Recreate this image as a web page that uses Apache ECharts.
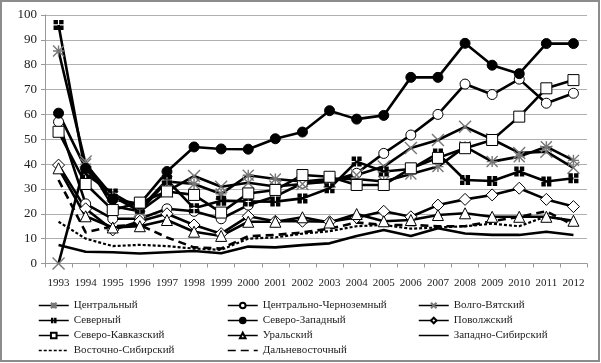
<!DOCTYPE html>
<html><head><meta charset="utf-8">
<script src="https://cdn.jsdelivr.net/npm/echarts@6/dist/echarts.min.js"></script>
<style>html,body{margin:0;padding:0;background:#fff}#c{width:601px;height:363px}</style>
</head><body><div id="c"></div>
<script>
var years = ['1993','1994','1995','1996','1997','1998','1999','2000','2001','2002','2003','2004','2005','2006','2007','2008','2009','2010','2011','2012'];
var yTicks = [0,10,20,30,40,50,60,70,80,90,100];

var central      = [85.5, 40, 27, 21, 33, 32, 28, 35.5, 34, 33, 34, 34, 33, 36, 39, 47, 41, 43, 47, 41.5];
var centralChern = [57, 24, 18, 18, 22, 21, 18, 23.5, 27, 32.3, 33, 36.3, 44.3, 51.7, 60, 72.2, 68, 74.2, 64.5, 68.5];
var volgoVyat    = [0, 41, 23, 21, 29, 35.2, 30.9, 32.5, 31, 32, 33, 35.6, 39, 46.5, 49.7, 55, 50, 44.5, 45, 38.5];
var severny      = [96, 36, 28.2, 22, 33.6, 22.2, 25.3, 25, 24.9, 26.2, 30.3, 41, 37, 38, 44.3, 33.6, 33.2, 37, 33, 34.3];
var severoZap    = [60.5, 38.3, 25.8, 24, 37, 46.9, 46.1, 46, 50.2, 52.9, 61.5, 58.1, 59.6, 74.9, 74.9, 88.6, 79.8, 76.4, 88.5, 88.5];
var povolzh      = [39.6, 22, 13.5, 17, 20, 15.5, 12, 19, 17, 17, 16.8, 18.5, 21, 18.8, 23.5, 25.8, 27.6, 30.3, 25.8, 22.9];
var severoKavk   = [53, 32, 21.5, 24.5, 29, 27.6, 20.5, 28.2, 29.6, 35.6, 34.9, 31.6, 31.6, 38.3, 42.5, 46.4, 49.7, 59.1, 70.5, 73.8];
var ural         = [38.3, 19, 14.5, 15, 17.5, 12.8, 11.1, 16.8, 16.8, 18.6, 16.5, 19.9, 17, 17.5, 19.5, 20.2, 18.8, 18.8, 18.8, 17.2];
var zapSib       = [7.4, 4.7, 4.5, 4, 4.5, 5, 4.1, 6.8, 6.5, 7.4, 8.1, 11.1, 13.5, 11.1, 14.2, 12.1, 11.5, 11.5, 12.8, 11.5];
var vostSib      = [16.8, 10, 7, 7.5, 7, 6, 5.5, 10, 10.5, 12, 13, 15, 15.5, 14, 14.5, 15, 16, 15, 19, 17];
var dalnevost    = [33.6, 12.5, 15, 15.5, 10.5, 6.5, 6, 11, 11.5, 12.5, 14, 16.5, 15.5, 15.5, 15, 15, 17, 18.8, 21, 15.5];

var names = ['Центральный','Центрально-Черноземный','Волго-Вятский','Северный','Северо-Западный','Поволжский','Северо-Кавказский','Уральский','Западно-Сибирский','Восточно-Сибирский','Дальневосточный'];

var ASTER = 'path://M0,0L10,10M10,0L0,10M5,0L5,10M0,5L10,5';
var XMARK = 'path://M0,0L10,10M10,0L0,10';
var PLUSSQ = 'path://M0,0h4.4v4.4h-4.4zM5.6,0h4.4v4.4h-4.4zM0,5.6h4.4v4.4h-4.4zM5.6,5.6h4.4v4.4h-4.4z';
var FONT = '"Liberation Serif","Times New Roman",serif';

function mk(name, data, symbol, size, fill, border, bw, lineType, lw) {
  return {
    name: name, type: 'line', data: data,
    symbol: symbol || 'none', symbolSize: size || 9, showSymbol: !!symbol,
    lineStyle: {color: '#000', width: lw || 2.6, type: lineType || 'solid'},
    itemStyle: {color: fill || 'transparent', borderColor: border || 'transparent', borderWidth: bw == null ? 0 : bw},
    emphasis: {disabled: true}, animation: false
  };
}

var series = [
  mk(names[0], central, ASTER, 11, 'transparent', '#777', 1.4),
  mk(names[1], centralChern, 'circle', 10, '#fff', '#000', 1),
  mk(names[2], volgoVyat, XMARK, 12, 'transparent', '#777', 1.4),
  mk(names[3], severny, PLUSSQ, 10, '#000', '#000', 0),
  mk(names[4], severoZap, 'circle', 10, '#000', '#000', 1),
  mk(names[5], povolzh, 'diamond', 12, '#fff', '#000', 1),
  mk(names[6], severoKavk, 'rect', 11, '#fff', '#000', 1),
  mk(names[7], ural, 'triangle', 11, '#fff', '#000', 1),
  mk(names[8], zapSib, null),
  mk(names[9], vostSib, null, 0, null, null, null, [3, 2], 2.2),
  mk(names[10], dalnevost, null, 0, null, null, null, [8, 5], 2.6)
];

function legend(left, data) {
  return {
    orient: 'vertical', left: left, top: 300, height: 90, itemGap: 4, itemWidth: 30, itemHeight: 7,
    data: data, selectedMode: false, padding: 0,
    lineStyle: {width: 1.5},
    textStyle: {fontFamily: FONT, fontSize: 11, color: '#222'}
  };
}

var chart = echarts.init(document.getElementById('c'), null, {renderer: 'canvas'});
chart.setOption({
  backgroundColor: '#fff',
  animation: false,
  grid: {left: 45, right: 14, top: 15, bottom: 99.5, containLabel: false},
  xAxis: {
    type: 'category', data: years, boundaryGap: true,
    axisLine: {lineStyle: {color: '#999'}},
    axisTick: {show: true, length: 4, lineStyle: {color: '#999'}},
    axisLabel: {fontFamily: FONT, fontSize: 11, color: '#222', margin: 14, interval: 0}
  },
  yAxis: {
    type: 'value', min: yTicks[0], max: yTicks[yTicks.length - 1], interval: 10,
    axisLine: {show: true, lineStyle: {color: '#999'}},
    axisTick: {show: true, length: 4, lineStyle: {color: '#999'}},
    axisLabel: {fontFamily: FONT, fontSize: 13, color: '#222', margin: 8},
    splitLine: {lineStyle: {color: '#b0b0b0', width: 1}}
  },
  legend: [
    legend(38, [names[0], names[3], names[6], names[9]]),
    legend(227, [names[1], names[4], names[7], names[10]]),
    legend(418, [names[2], names[5], names[8]])
  ],
  graphic: [{
    type: 'rect', shape: {x: 1, y: 1, width: 598, height: 360}, silent: true,
    style: {fill: 'none', stroke: '#8c8c8c', lineWidth: 2}
  }],
  series: series
});
</script></body></html>
